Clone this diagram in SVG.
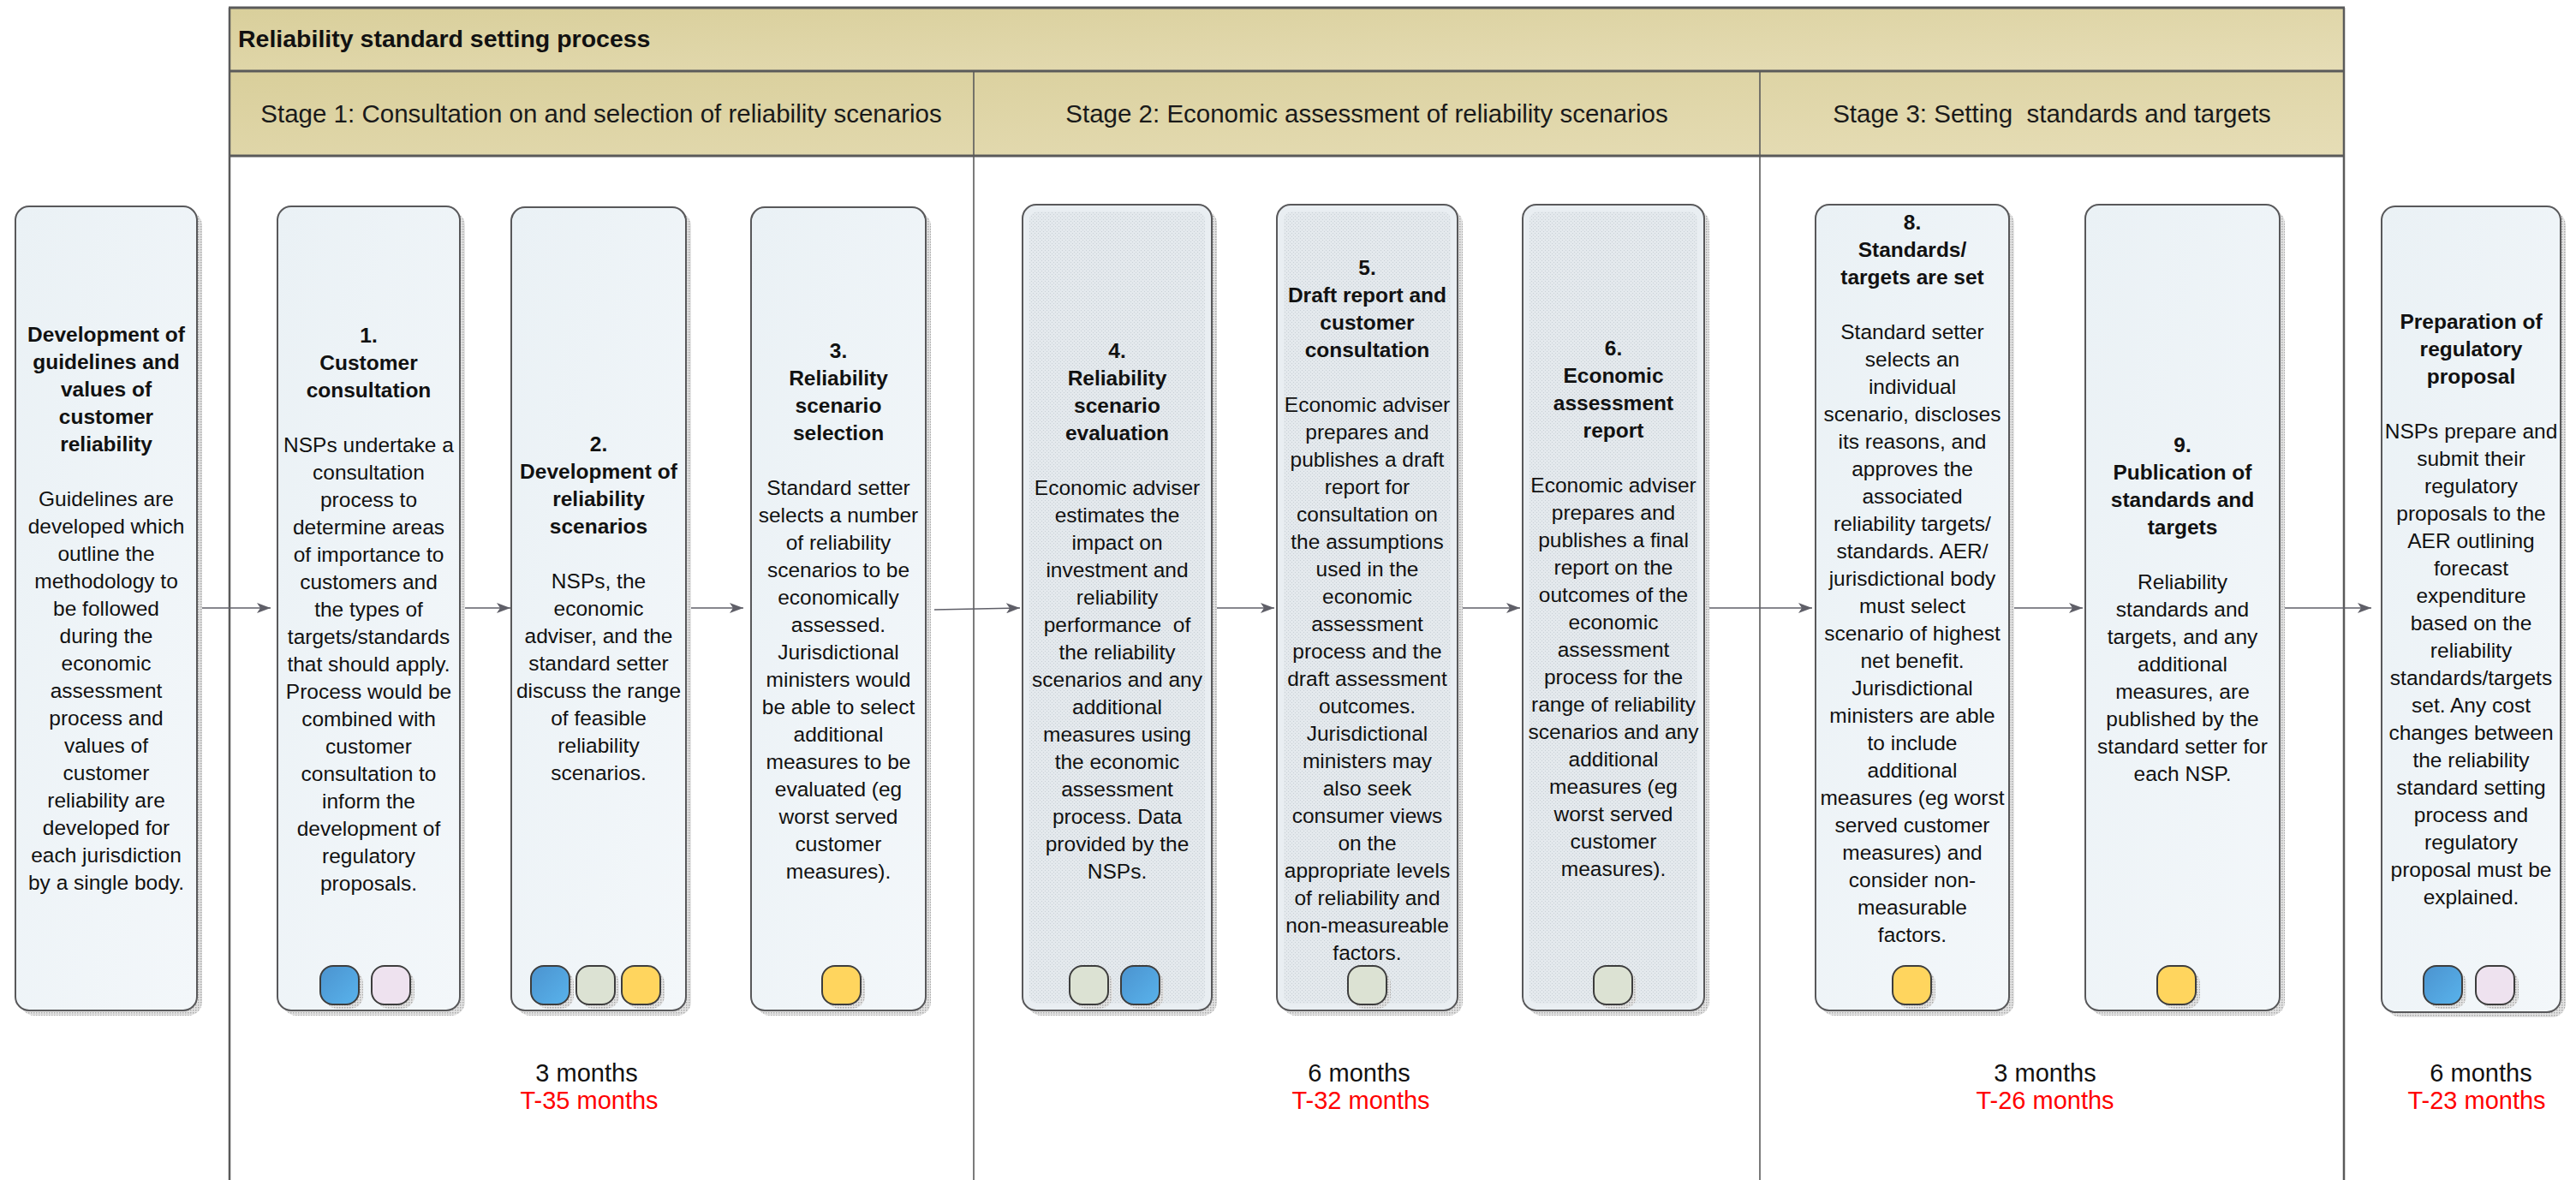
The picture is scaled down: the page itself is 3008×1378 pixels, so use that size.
<svg xmlns="http://www.w3.org/2000/svg" width="3008" height="1378" viewBox="0 0 3008 1378">
<defs>
  <linearGradient id="band" x1="0" y1="0" x2="1" y2="1">
    <stop offset="0" stop-color="#d9cf9b"/>
    <stop offset="1" stop-color="#e6ddb6"/>
  </linearGradient>
  <linearGradient id="boxfill" x1="0" y1="0" x2="1" y2="1">
    <stop offset="0" stop-color="#eaf1f5"/>
    <stop offset="1" stop-color="#f3f7fa"/>
  </linearGradient>
  <linearGradient id="blue" x1="0" y1="0" x2="1" y2="1">
    <stop offset="0" stop-color="#4b93cf"/>
    <stop offset="1" stop-color="#59b3ec"/>
  </linearGradient>
  <pattern id="shadowDots" width="3" height="3" patternUnits="userSpaceOnUse">
    <rect width="3" height="3" fill="#e4e4e4"/>
    <rect width="1.5" height="1.5" fill="#a9a9a9"/>
  </pattern>
  <pattern id="hatch" width="4" height="4" patternUnits="userSpaceOnUse">
    <rect width="4" height="4" fill="#e4e9ed"/>
    <rect x="0" y="0" width="1" height="1" fill="#c8d0d6"/>
    <rect x="2" y="2" width="1" height="1" fill="#c8d0d6"/>
  </pattern>
  <marker id="arr" viewBox="0 0 16 12" refX="16" refY="6" markerWidth="16" markerHeight="12" markerUnits="userSpaceOnUse" orient="auto">
    <path d="M0,0 L16,6 L0,12 L4,6 Z" fill="#5f5f68"/>
  </marker>
</defs>
<style>
  .shadow{fill:url(#shadowDots)}
  .box{fill:url(#boxfill);stroke:#58585a;stroke-width:2}
  .boxd{fill:#e9eef2;stroke:#58585a;stroke-width:2}
  .inner{fill:url(#hatch)}
  .ov{stroke:#3d3d3d;stroke-width:2}
  .ovs{fill:url(#shadowDots)}
  .bl{fill:url(#blue)}
  .pk{fill:#eee2ef}
  .gr{fill:#dce2d3}
  .yl{fill:#ffd55e}
  .t{font-family:"Liberation Sans",Arial,sans-serif;font-size:24.5px;fill:#111;text-anchor:middle}
  .b{font-weight:bold}
  .frame{stroke:#5a5a5a;fill:none}
  .hdr{font-family:"Liberation Sans",Arial,sans-serif;font-size:29.5px;fill:#1a1a1a;text-anchor:middle;white-space:pre}
  .ttl{font-family:"Liberation Sans",Arial,sans-serif;font-size:28.5px;font-weight:bold;fill:#111}
  .dur{font-family:"Liberation Sans",Arial,sans-serif;font-size:29px;fill:#111;text-anchor:middle}
  .red{fill:#ff0000}
  .conn{stroke:#5f5f68;stroke-width:1.6;fill:none}
</style>

<g id="frame">
  <rect x="268" y="9" width="2469" height="74" fill="url(#band)"/>
  <rect x="268" y="83" width="2469" height="99" fill="url(#band)"/>
  <line class="frame" x1="267" y1="9" x2="2738" y2="9" stroke-width="3"/>
  <line class="frame" x1="267" y1="83" x2="2738" y2="83" stroke-width="3"/>
  <line class="frame" x1="267" y1="182" x2="2738" y2="182" stroke-width="3"/>
  <line class="frame" x1="268" y1="9" x2="268" y2="1378" stroke-width="2.5"/>
  <line class="frame" x1="2737" y1="9" x2="2737" y2="1378" stroke-width="2.5"/>
  <line class="frame" x1="1137" y1="83" x2="1137" y2="1378" stroke-width="1.6"/>
  <line class="frame" x1="2055" y1="83" x2="2055" y2="1378" stroke-width="1.6"/>
  <text class="ttl" x="278" y="55">Reliability standard setting process</text>
  <text class="hdr" x="702" y="143">Stage 1: Consultation on and selection of reliability scenarios</text>
  <text class="hdr" x="1596" y="143">Stage 2: Economic assessment of reliability scenarios</text>
  <text class="hdr" x="2396" y="143">Stage 3: Setting  standards and targets</text>
</g>

<g id="connectors">
  <line class="conn" x1="231" y1="710" x2="316" y2="710" marker-end="url(#arr)"/>
  <line class="conn" x1="538" y1="710" x2="596" y2="710" marker-end="url(#arr)"/>
  <line class="conn" x1="802" y1="710" x2="868" y2="710" marker-end="url(#arr)"/>
  <line class="conn" x1="1091" y1="712" x2="1191" y2="710" marker-end="url(#arr)"/>
  <line class="conn" x1="1416" y1="710" x2="1488" y2="710" marker-end="url(#arr)"/>
  <line class="conn" x1="1703" y1="710" x2="1775" y2="710" marker-end="url(#arr)"/>
  <line class="conn" x1="1991" y1="710" x2="2116" y2="710" marker-end="url(#arr)"/>
  <line class="conn" x1="2347" y1="710" x2="2432" y2="710" marker-end="url(#arr)"/>
  <line class="conn" x1="2663" y1="710" x2="2769" y2="710" marker-end="url(#arr)"/>
</g>

<g id="node-guidelines">
  <rect class="shadow" x="24" y="247" width="212" height="939" rx="16"/>
  <rect class="box" x="18" y="241" width="212" height="939" rx="16"/>
  <text class="t" y="399"><tspan class="b" x="124" dy="0">Development of</tspan><tspan class="b" x="124" dy="32">guidelines and</tspan><tspan class="b" x="124" dy="32">values of</tspan><tspan class="b" x="124" dy="32">customer</tspan><tspan class="b" x="124" dy="32">reliability</tspan><tspan x="124" dy="64">Guidelines are</tspan><tspan x="124" dy="32">developed which</tspan><tspan x="124" dy="32">outline the</tspan><tspan x="124" dy="32">methodology to</tspan><tspan x="124" dy="32">be followed</tspan><tspan x="124" dy="32">during the</tspan><tspan x="124" dy="32">economic</tspan><tspan x="124" dy="32">assessment</tspan><tspan x="124" dy="32">process and</tspan><tspan x="124" dy="32">values of</tspan><tspan x="124" dy="32">customer</tspan><tspan x="124" dy="32">reliability are</tspan><tspan x="124" dy="32">developed for</tspan><tspan x="124" dy="32">each jurisdiction</tspan><tspan x="124" dy="32">by a single body.</tspan></text>
</g>

<g id="node-1">
  <rect class="shadow" x="330" y="247" width="213" height="939" rx="16"/>
  <rect class="box" x="324" y="241" width="213" height="939" rx="16"/>
  <text class="t" y="400"><tspan class="b" x="430.5" dy="0">1.</tspan><tspan class="b" x="430.5" dy="32">Customer</tspan><tspan class="b" x="430.5" dy="32">consultation</tspan><tspan x="430.5" dy="64">NSPs undertake a</tspan><tspan x="430.5" dy="32">consultation</tspan><tspan x="430.5" dy="32">process to</tspan><tspan x="430.5" dy="32">determine areas</tspan><tspan x="430.5" dy="32">of importance to</tspan><tspan x="430.5" dy="32">customers and</tspan><tspan x="430.5" dy="32">the types of</tspan><tspan x="430.5" dy="32">targets/standards</tspan><tspan x="430.5" dy="32">that should apply.</tspan><tspan x="430.5" dy="32">Process would be</tspan><tspan x="430.5" dy="32">combined with</tspan><tspan x="430.5" dy="32">customer</tspan><tspan x="430.5" dy="32">consultation to</tspan><tspan x="430.5" dy="32">inform the</tspan><tspan x="430.5" dy="32">development of</tspan><tspan x="430.5" dy="32">regulatory</tspan><tspan x="430.5" dy="32">proposals.</tspan></text>
  <rect class="ovs" x="379" y="1133" width="45" height="45" rx="15"/>
  <rect class="ov bl" x="374" y="1128" width="45" height="45" rx="15"/>
  <rect class="ovs" x="439" y="1133" width="45" height="45" rx="15"/>
  <rect class="ov pk" x="434" y="1128" width="45" height="45" rx="15"/>
</g>

<g id="node-2">
  <rect class="shadow" x="603" y="248" width="204" height="938" rx="16"/>
  <rect class="box" x="597" y="242" width="204" height="938" rx="16"/>
  <text class="t" y="527"><tspan class="b" x="699" dy="0">2.</tspan><tspan class="b" x="699" dy="32">Development of</tspan><tspan class="b" x="699" dy="32">reliability</tspan><tspan class="b" x="699" dy="32">scenarios</tspan><tspan x="699" dy="64">NSPs, the</tspan><tspan x="699" dy="32">economic</tspan><tspan x="699" dy="32">adviser, and the</tspan><tspan x="699" dy="32">standard setter</tspan><tspan x="699" dy="32">discuss the range</tspan><tspan x="699" dy="32">of feasible</tspan><tspan x="699" dy="32">reliability</tspan><tspan x="699" dy="32">scenarios.</tspan></text>
  <rect class="ovs" x="625" y="1133" width="45" height="45" rx="15"/>
  <rect class="ov bl" x="620" y="1128" width="45" height="45" rx="15"/>
  <rect class="ovs" x="678" y="1133" width="45" height="45" rx="15"/>
  <rect class="ov gr" x="673" y="1128" width="45" height="45" rx="15"/>
  <rect class="ovs" x="731" y="1133" width="45" height="45" rx="15"/>
  <rect class="ov yl" x="726" y="1128" width="45" height="45" rx="15"/>
</g>

<g id="node-3">
  <rect class="shadow" x="883" y="248" width="204" height="938" rx="16"/>
  <rect class="box" x="877" y="242" width="204" height="938" rx="16"/>
  <text class="t" y="418"><tspan class="b" x="979" dy="0">3.</tspan><tspan class="b" x="979" dy="32">Reliability</tspan><tspan class="b" x="979" dy="32">scenario</tspan><tspan class="b" x="979" dy="32">selection</tspan><tspan x="979" dy="64">Standard setter</tspan><tspan x="979" dy="32">selects a number</tspan><tspan x="979" dy="32">of reliability</tspan><tspan x="979" dy="32">scenarios to be</tspan><tspan x="979" dy="32">economically</tspan><tspan x="979" dy="32">assessed.</tspan><tspan x="979" dy="32">Jurisdictional</tspan><tspan x="979" dy="32">ministers would</tspan><tspan x="979" dy="32">be able to select</tspan><tspan x="979" dy="32">additional</tspan><tspan x="979" dy="32">measures to be</tspan><tspan x="979" dy="32">evaluated (eg</tspan><tspan x="979" dy="32">worst served</tspan><tspan x="979" dy="32">customer</tspan><tspan x="979" dy="32">measures).</tspan></text>
  <rect class="ovs" x="965" y="1133" width="45" height="45" rx="15"/>
  <rect class="ov yl" x="960" y="1128" width="45" height="45" rx="15"/>
</g>

<g id="node-4">
  <rect class="shadow" x="1200" y="245" width="221" height="941" rx="16"/>
  <rect class="boxd" x="1194" y="239" width="221" height="941" rx="16"/>
  <rect class="inner" x="1202" y="247" width="205" height="925" rx="10"/>
  <text class="t" y="418"><tspan class="b" x="1304.5" dy="0">4.</tspan><tspan class="b" x="1304.5" dy="32">Reliability</tspan><tspan class="b" x="1304.5" dy="32">scenario</tspan><tspan class="b" x="1304.5" dy="32">evaluation</tspan><tspan x="1304.5" dy="64">Economic adviser</tspan><tspan x="1304.5" dy="32">estimates the</tspan><tspan x="1304.5" dy="32">impact on</tspan><tspan x="1304.5" dy="32">investment and</tspan><tspan x="1304.5" dy="32">reliability</tspan><tspan x="1304.5" dy="32" style="white-space:pre">performance  of</tspan><tspan x="1304.5" dy="32">the reliability</tspan><tspan x="1304.5" dy="32">scenarios and any</tspan><tspan x="1304.5" dy="32">additional</tspan><tspan x="1304.5" dy="32">measures using</tspan><tspan x="1304.5" dy="32">the economic</tspan><tspan x="1304.5" dy="32">assessment</tspan><tspan x="1304.5" dy="32">process. Data</tspan><tspan x="1304.5" dy="32">provided by the</tspan><tspan x="1304.5" dy="32">NSPs.</tspan></text>
  <rect class="ovs" x="1254" y="1133" width="45" height="45" rx="15"/>
  <rect class="ov gr" x="1249" y="1128" width="45" height="45" rx="15"/>
  <rect class="ovs" x="1314" y="1133" width="45" height="45" rx="15"/>
  <rect class="ov bl" x="1309" y="1128" width="45" height="45" rx="15"/>
</g>

<g id="node-5">
  <rect class="shadow" x="1497" y="245" width="211" height="941" rx="16"/>
  <rect class="boxd" x="1491" y="239" width="211" height="941" rx="16"/>
  <rect class="inner" x="1499" y="247" width="195" height="925" rx="10"/>
  <text class="t" y="321"><tspan class="b" x="1596.5" dy="0">5.</tspan><tspan class="b" x="1596.5" dy="32">Draft report and</tspan><tspan class="b" x="1596.5" dy="32">customer</tspan><tspan class="b" x="1596.5" dy="32">consultation</tspan><tspan x="1596.5" dy="64">Economic adviser</tspan><tspan x="1596.5" dy="32">prepares and</tspan><tspan x="1596.5" dy="32">publishes a draft</tspan><tspan x="1596.5" dy="32">report for</tspan><tspan x="1596.5" dy="32">consultation on</tspan><tspan x="1596.5" dy="32">the assumptions</tspan><tspan x="1596.5" dy="32">used in the</tspan><tspan x="1596.5" dy="32">economic</tspan><tspan x="1596.5" dy="32">assessment</tspan><tspan x="1596.5" dy="32">process and the</tspan><tspan x="1596.5" dy="32">draft assessment</tspan><tspan x="1596.5" dy="32">outcomes.</tspan><tspan x="1596.5" dy="32">Jurisdictional</tspan><tspan x="1596.5" dy="32">ministers may</tspan><tspan x="1596.5" dy="32">also seek</tspan><tspan x="1596.5" dy="32">consumer views</tspan><tspan x="1596.5" dy="32">on the</tspan><tspan x="1596.5" dy="32">appropriate levels</tspan><tspan x="1596.5" dy="32">of reliability and</tspan><tspan x="1596.5" dy="32">non-measureable</tspan><tspan x="1596.5" dy="32">factors.</tspan></text>
  <rect class="ovs" x="1579" y="1133" width="45" height="45" rx="15"/>
  <rect class="ov gr" x="1574" y="1128" width="45" height="45" rx="15"/>
</g>

<g id="node-6">
  <rect class="shadow" x="1784" y="245" width="212" height="941" rx="16"/>
  <rect class="boxd" x="1778" y="239" width="212" height="941" rx="16"/>
  <rect class="inner" x="1786" y="247" width="196" height="925" rx="10"/>
  <text class="t" y="415"><tspan class="b" x="1884" dy="0">6.</tspan><tspan class="b" x="1884" dy="32">Economic</tspan><tspan class="b" x="1884" dy="32">assessment</tspan><tspan class="b" x="1884" dy="32">report</tspan><tspan x="1884" dy="64">Economic adviser</tspan><tspan x="1884" dy="32">prepares and</tspan><tspan x="1884" dy="32">publishes a final</tspan><tspan x="1884" dy="32">report on the</tspan><tspan x="1884" dy="32">outcomes of the</tspan><tspan x="1884" dy="32">economic</tspan><tspan x="1884" dy="32">assessment</tspan><tspan x="1884" dy="32">process for the</tspan><tspan x="1884" dy="32">range of reliability</tspan><tspan x="1884" dy="32">scenarios and any</tspan><tspan x="1884" dy="32">additional</tspan><tspan x="1884" dy="32">measures (eg</tspan><tspan x="1884" dy="32">worst served</tspan><tspan x="1884" dy="32">customer</tspan><tspan x="1884" dy="32">measures).</tspan></text>
  <rect class="ovs" x="1866" y="1133" width="45" height="45" rx="15"/>
  <rect class="ov gr" x="1861" y="1128" width="45" height="45" rx="15"/>
</g>

<g id="node-8">
  <rect class="shadow" x="2126" y="245" width="226" height="941" rx="16"/>
  <rect class="box" x="2120" y="239" width="226" height="941" rx="16"/>
  <text class="t" y="268"><tspan class="b" x="2233" dy="0">8.</tspan><tspan class="b" x="2233" dy="32">Standards/</tspan><tspan class="b" x="2233" dy="32">targets are set</tspan><tspan x="2233" dy="64">Standard setter</tspan><tspan x="2233" dy="32">selects an</tspan><tspan x="2233" dy="32">individual</tspan><tspan x="2233" dy="32">scenario, discloses</tspan><tspan x="2233" dy="32">its reasons, and</tspan><tspan x="2233" dy="32">approves the</tspan><tspan x="2233" dy="32">associated</tspan><tspan x="2233" dy="32">reliability targets/</tspan><tspan x="2233" dy="32">standards. AER/</tspan><tspan x="2233" dy="32">jurisdictional body</tspan><tspan x="2233" dy="32">must select</tspan><tspan x="2233" dy="32">scenario of highest</tspan><tspan x="2233" dy="32">net benefit.</tspan><tspan x="2233" dy="32">Jurisdictional</tspan><tspan x="2233" dy="32">ministers are able</tspan><tspan x="2233" dy="32">to include</tspan><tspan x="2233" dy="32">additional</tspan><tspan x="2233" dy="32">measures (eg worst</tspan><tspan x="2233" dy="32">served customer</tspan><tspan x="2233" dy="32">measures) and</tspan><tspan x="2233" dy="32">consider non-</tspan><tspan x="2233" dy="32">measurable</tspan><tspan x="2233" dy="32">factors.</tspan></text>
  <rect class="ovs" x="2215" y="1133" width="45" height="45" rx="15"/>
  <rect class="ov yl" x="2210" y="1128" width="45" height="45" rx="15"/>
</g>

<g id="node-9">
  <rect class="shadow" x="2441" y="245" width="227" height="941" rx="16"/>
  <rect class="box" x="2435" y="239" width="227" height="941" rx="16"/>
  <text class="t" y="528"><tspan class="b" x="2548.5" dy="0">9.</tspan><tspan class="b" x="2548.5" dy="32">Publication of</tspan><tspan class="b" x="2548.5" dy="32">standards and</tspan><tspan class="b" x="2548.5" dy="32">targets</tspan><tspan x="2548.5" dy="64">Reliability</tspan><tspan x="2548.5" dy="32">standards and</tspan><tspan x="2548.5" dy="32">targets, and any</tspan><tspan x="2548.5" dy="32">additional</tspan><tspan x="2548.5" dy="32">measures, are</tspan><tspan x="2548.5" dy="32">published by the</tspan><tspan x="2548.5" dy="32">standard setter for</tspan><tspan x="2548.5" dy="32">each NSP.</tspan></text>
  <rect class="ovs" x="2524" y="1133" width="45" height="45" rx="15"/>
  <rect class="ov yl" x="2519" y="1128" width="45" height="45" rx="15"/>
</g>

<g id="node-proposal">
  <rect class="shadow" x="2787" y="247" width="209" height="941" rx="16"/>
  <rect class="box" x="2781" y="241" width="209" height="941" rx="16"/>
  <text class="t" y="384"><tspan class="b" x="2885.5" dy="0">Preparation of</tspan><tspan class="b" x="2885.5" dy="32">regulatory</tspan><tspan class="b" x="2885.5" dy="32">proposal</tspan><tspan x="2885.5" dy="64">NSPs prepare and</tspan><tspan x="2885.5" dy="32">submit their</tspan><tspan x="2885.5" dy="32">regulatory</tspan><tspan x="2885.5" dy="32">proposals to the</tspan><tspan x="2885.5" dy="32">AER outlining</tspan><tspan x="2885.5" dy="32">forecast</tspan><tspan x="2885.5" dy="32">expenditure</tspan><tspan x="2885.5" dy="32">based on the</tspan><tspan x="2885.5" dy="32">reliability</tspan><tspan x="2885.5" dy="32">standards/targets</tspan><tspan x="2885.5" dy="32">set. Any cost</tspan><tspan x="2885.5" dy="32">changes between</tspan><tspan x="2885.5" dy="32">the reliability</tspan><tspan x="2885.5" dy="32">standard setting</tspan><tspan x="2885.5" dy="32">process and</tspan><tspan x="2885.5" dy="32">regulatory</tspan><tspan x="2885.5" dy="32">proposal must be</tspan><tspan x="2885.5" dy="32">explained.</tspan></text>
  <rect class="ovs" x="2835" y="1133" width="45" height="45" rx="15"/>
  <rect class="ov bl" x="2830" y="1128" width="45" height="45" rx="15"/>
  <rect class="ovs" x="2896" y="1133" width="45" height="45" rx="15"/>
  <rect class="ov pk" x="2891" y="1128" width="45" height="45" rx="15"/>
</g>

<g id="durations">
  <text class="dur" x="685" y="1263">3 months</text>
  <text class="dur red" x="688" y="1295">T-35 months</text>
  <text class="dur" x="1587" y="1263">6 months</text>
  <text class="dur red" x="1589" y="1295">T-32 months</text>
  <text class="dur" x="2388" y="1263">3 months</text>
  <text class="dur red" x="2388" y="1295">T-26 months</text>
  <text class="dur" x="2897" y="1263">6 months</text>
  <text class="dur red" x="2892" y="1295">T-23 months</text>
</g>
</svg>
